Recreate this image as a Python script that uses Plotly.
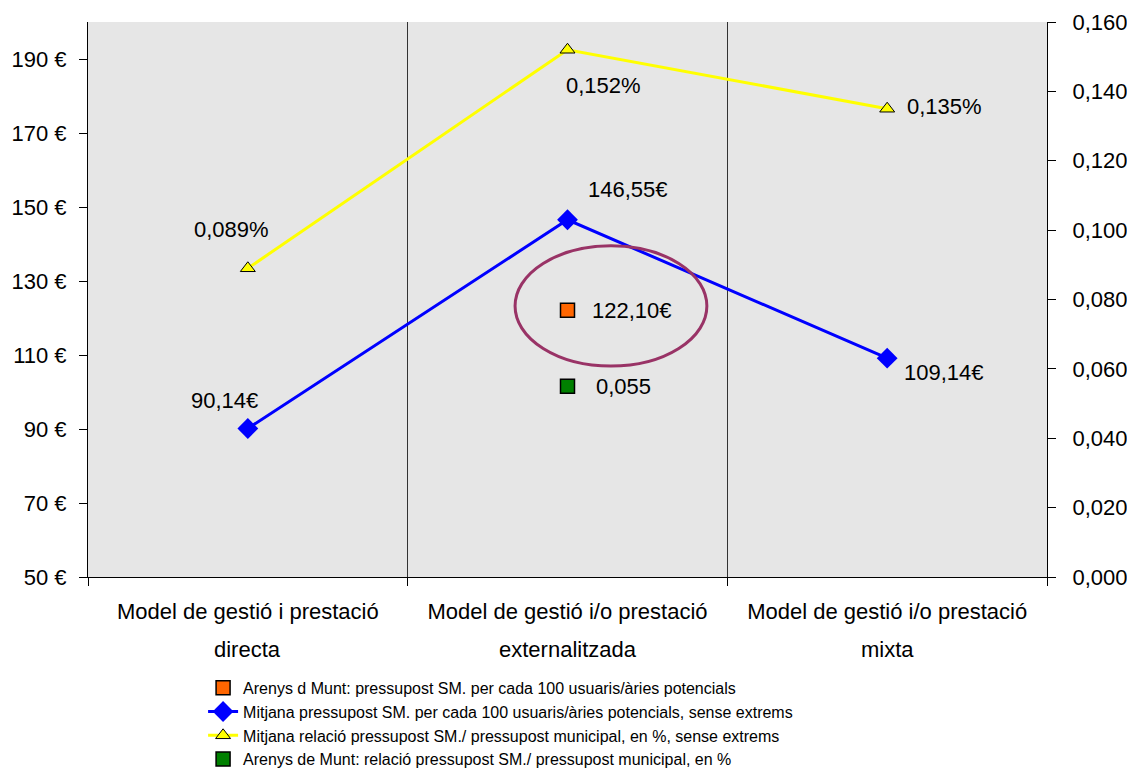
import plotly.graph_objects as go

categories_line1 = ["Model de gestió i prestació", "Model de gestió i/o prestació", "Model de gestió i/o prestació"]
categories_line2 = ["directa", "externalitzada", "mixta"]
x_pos = [0, 1, 2]

blue_vals = [90.14, 146.55, 109.14]
blue_labels = ["90,14€", "146,55€", "109,14€"]
yellow_vals = [0.089, 0.152, 0.135]
yellow_labels = ["0,089%", "0,152%", "0,135%"]
orange_val = [122.10]
orange_label = ["122,10€"]
green_val = [0.055]
green_label = ["0,055"]

names = [
    "Arenys d Munt: pressupost SM. per cada 100 usuaris/àries potencials",
    "Mitjana pressupost SM. per cada 100 usuaris/àries potencials, sense extrems",
    "Mitjana relació pressupost SM./ pressupost municipal, en %, sense extrems",
    "Arenys de Munt: relació pressupost SM./ pressupost municipal, en %",
]

FONT = "Liberation Sans, Arial, sans-serif"
LBL = 22
fig = go.Figure()

fig.add_trace(go.Scatter(
    x=[1], y=orange_val, mode="markers", name=names[0],
    marker=dict(symbol="square", size=14, color="#FF6600", line=dict(color="black", width=1.5)),
))
fig.add_trace(go.Scatter(
    x=x_pos, y=blue_vals, mode="lines+markers", name=names[1],
    line=dict(color="#0000FF", width=3),
    marker=dict(symbol="diamond", size=16, color="#0000FF"),
))
fig.add_trace(go.Scatter(
    x=x_pos, y=yellow_vals, mode="lines+markers", name=names[2], yaxis="y2",
    line=dict(color="#FFFF00", width=3),
    marker=dict(symbol="triangle-up", size=13, color="#FFFF00", line=dict(color="black", width=1)),
))
fig.add_trace(go.Scatter(
    x=[1], y=green_val, mode="markers", name=names[3], yaxis="y2",
    marker=dict(symbol="square", size=14, color="#008000", line=dict(color="black", width=1.5)),
))

# data labels
fig.add_annotation(x=1, y=orange_val[0], text=orange_label[0], showarrow=False, xanchor="left",
                   xshift=22, font=dict(size=LBL, color="black", family=FONT))
fig.add_annotation(x=1, y=green_val[0], yref="y2", text=green_label[0], showarrow=False, xanchor="left",
                   xshift=26, font=dict(size=LBL, color="black", family=FONT))

blue_offsets = [(-23, -28), (60, -30), (57, 14)]
for xv, yv, t, (ax, ay) in zip(x_pos, blue_vals, blue_labels, blue_offsets):
    fig.add_annotation(x=xv, y=yv, text=t, showarrow=False, xshift=ax, yshift=-ay,
                       font=dict(size=LBL, color="black", family=FONT))
yellow_offsets = [(-16, -39), (36, 36), (57, -2)]
for xv, yv, t, (ax, ay) in zip(x_pos, yellow_vals, yellow_labels, yellow_offsets):
    fig.add_annotation(x=xv, y=yv, yref="y2", text=t, showarrow=False, xshift=ax, yshift=-ay,
                       font=dict(size=LBL, color="black", family=FONT))

# second line of category labels
for xv, t in zip(x_pos, categories_line2):
    fig.add_annotation(x=xv, y=-0.1315, yref="paper", text=t, showarrow=False, yanchor="middle",
                       font=dict(size=LBL, color="black", family=FONT))

# ellipse highlight
fig.add_shape(type="circle", xref="x", yref="y", x0=0.836, x1=1.436, y0=107.0, y1=139.5,
              line=dict(color="#993366", width=3))

# page body has an 8px margin, so the figure is drawn 8px in from the top-left corner
fig.update_layout(
    width=1127, height=765,
    margin=dict(l=80, r=88, t=14, b=196, autoexpand=False),
    paper_bgcolor="white",
    plot_bgcolor="#e6e6e6",
    separators=",.",
    font=dict(family=FONT, size=LBL, color="black"),
    showlegend=True,
    legend=dict(x=0.12, y=-0.36, xanchor="left", yanchor="bottom", bgcolor="rgba(0,0,0,0)",
                font=dict(size=16, color="black"), tracegroupgap=0, itemwidth=30),
    xaxis=dict(
        range=[-0.5, 2.5], tickvals=x_pos, ticktext=categories_line1,
        ticks="", showgrid=False, zeroline=False,
        showline=True, linecolor="black", linewidth=1,
        ticklabelstandoff=15,
        minor=dict(tick0=0.5, dtick=1, showgrid=True, gridcolor="#333333", gridwidth=1,
                   ticks="outside", ticklen=8, tickcolor="black"),
        fixedrange=True,
    ),
    yaxis=dict(
        range=[50, 200], tick0=50, dtick=20, ticksuffix=" €",
        showgrid=False, zeroline=False, showline=True, linecolor="black", linewidth=1,
        ticks="outside", ticklen=8, tickcolor="black", ticklabelstandoff=8,
    ),
    yaxis2=dict(
        range=[0, 0.16], tick0=0, dtick=0.02, tickformat=".3f", overlaying="y", side="right",
        showgrid=False, zeroline=False, showline=True, linecolor="black", linewidth=1,
        ticks="outside", ticklen=8, tickcolor="black", ticklabelstandoff=12,
    ),
)

fig.write_html("out.html")
